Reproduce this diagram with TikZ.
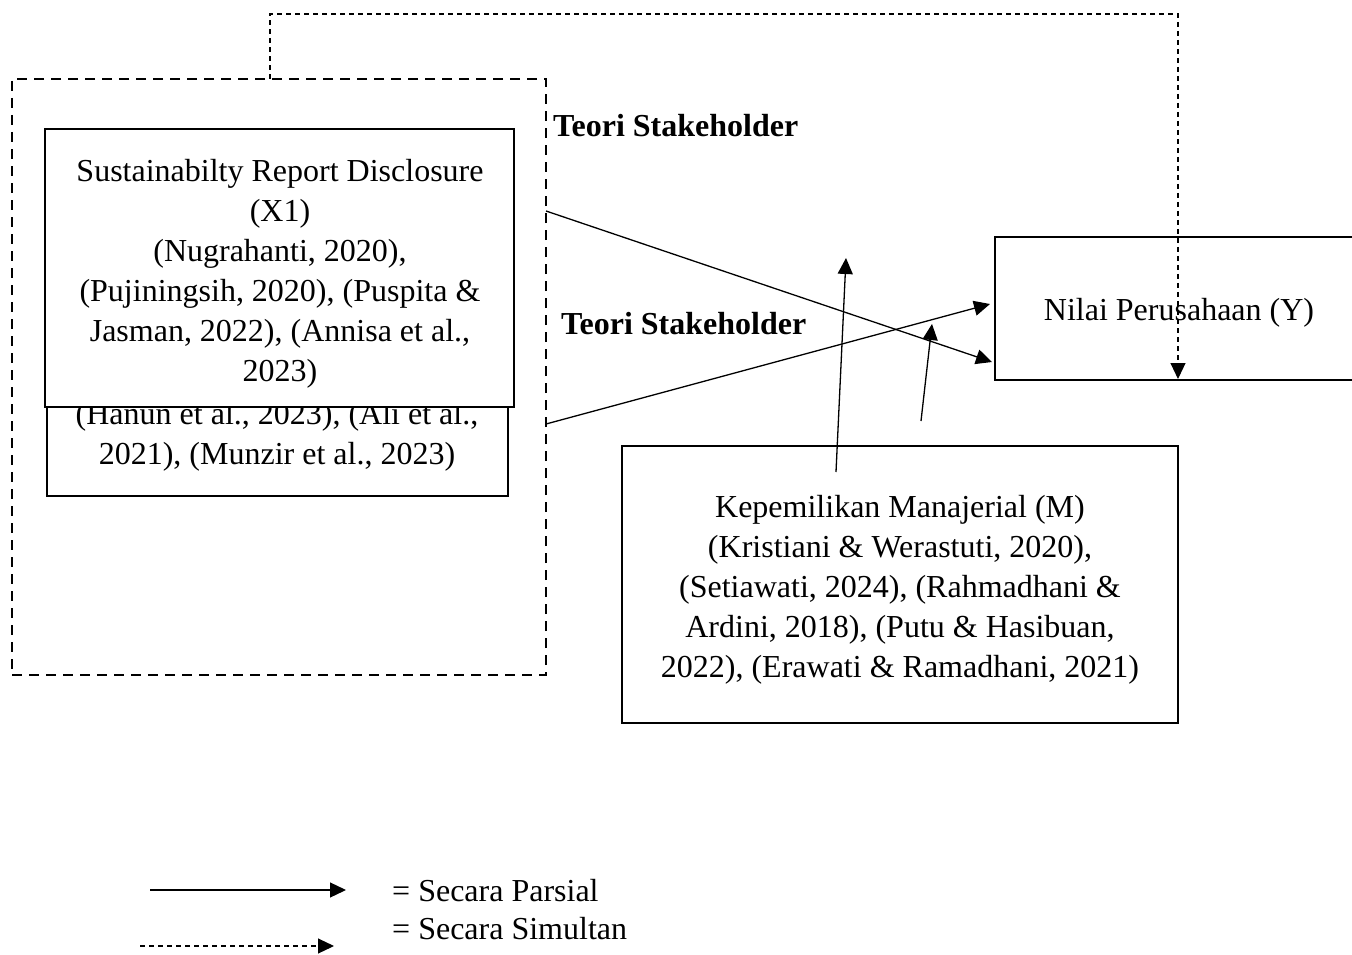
\documentclass[tikz,border=0pt]{standalone}
\usepackage{fontspec}
\setmainfont{Liberation Serif}
\usetikzlibrary{arrows.meta}
\begin{document}
\begin{tikzpicture}[x=1pt,y=-1pt,
  box/.style={draw,line width=2.9pt,rectangle,inner sep=0pt,fill=white},
  txt/.style={font=\fontsize{32}{40}\selectfont,align=center,inner sep=0pt},
  arr/.style={line width=1.3pt,-{Triangle[length=16pt,width=15pt]}},
  simul/.style={line width=1.1pt,dash pattern=on 5pt off 4pt,-{Triangle[length=16pt,width=15pt]}},
  frame/.style={draw,line width=2.8pt,dash pattern=on 10pt off 7pt,rectangle,inner sep=0pt},
  lbl/.style={font=\bfseries\fontsize{32}{40}\selectfont,inner sep=0pt,anchor=west},
  leg/.style={font=\fontsize{32}{40}\selectfont,inner sep=0pt,anchor=west}
]
\useasboundingbox (0,0) rectangle (1352,955);
\clip (0,0) rectangle (1352,955);

% theory frame
\node[frame,minimum width=534pt,minimum height=596pt] (theory) at (279,377) {};

% hidden back box (X2)
\node[box,minimum width=461pt,minimum height=360pt] (x2) at (277.5,316) {};
\node[txt] (x2txt) at (277,437) {(Hanun et al., 2023), (Ali et al.,\\2021), (Munzir et al., 2023)};

% front box (X1)
\node[box,minimum width=469pt,minimum height=278pt] (x1) at (279.5,268) {};
\node[txt] (x1txt) at (280,274) {Sustainabilty Report Disclosure\\(X1)\\(Nugrahanti, 2020),\\(Pujiningsih, 2020), (Puspita \&\\Jasman, 2022), (Annisa et al.,\\2023)};

% Nilai Perusahaan
\node[box,minimum width=368pt,minimum height=143pt] (y) at (1179,308.5) {};
\node[txt] (ytxt) at (1179,312.5) {Nilai Perusahaan (Y)};

% Kepemilikan Manajerial
\node[box,minimum width=556pt,minimum height=277pt] (m) at (900,584.5) {};
\node[txt] (mtxt) at (900,590) {Kepemilikan Manajerial (M)\\(Kristiani \& Werastuti, 2020),\\(Setiawati, 2024), (Rahmadhani \&\\Ardini, 2018), (Putu \& Hasibuan,\\2022), (Erawati \& Ramadhani, 2021)};

% labels
\node[lbl] (t1) at (553,126) {Teori Stakeholder};
\node[lbl] (t2) at (561,324) {Teori Stakeholder};

% coordinates
\coordinate (a1s) at (546,211);
\coordinate (a1e) at (992,362);
\coordinate (a2s) at (546,424);
\coordinate (a2e) at (990,304);
\coordinate (a3s) at (836,472);
\coordinate (a3e) at (846,258);
\coordinate (a4s) at (921,421);
\coordinate (a4e) at (932,324);
\coordinate (s0) at (270,79);
\coordinate (stop) at (1178,14);
\coordinate (send) at (1178,379);

% arrows
\draw[arr] (a1s) -- (a1e);
\draw[arr] (a2s) -- (a2e);
\draw[arr] (a3s) -- (a3e);
\draw[arr] (a4s) -- (a4e);
\draw[simul] (s0) |- (stop) -- (send);

% legend
\coordinate (l1s) at (150,890);
\coordinate (l1e) at (346,890);
\coordinate (l2s) at (140,946);
\coordinate (l2e) at (334,946);
\draw[arr] (l1s) -- (l1e);
\draw[simul] (l2s) -- (l2e);
\node[leg] (lp) at (392,891) {= Secara Parsial};
\node[leg] (ls) at (392,929) {= Secara Simultan};
\end{tikzpicture}
\end{document}
